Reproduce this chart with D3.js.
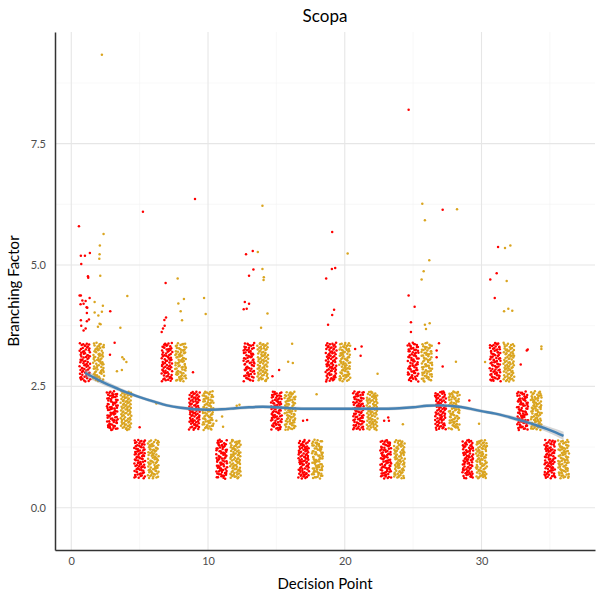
<!DOCTYPE html>
<html>
<head>
<meta charset="utf-8">
<script src="https://cdn.jsdelivr.net/npm/d3@7"></script>
<style>
  body { margin: 0; background: #fff; }
</style>
</head>
<body>
<div class="center"></div>
<script>
// Decision points and the usual branching factor at each (3,3,2,2,1,1 per deal)
const decisionPoints = [1,2,3,4,5,6,7,8,9,10,11,12,13,14,15,16,17,18,
                        19,20,21,22,23,24,25,26,27,28,29,30,31,32,33,34,35,36];
const baseBranching  = [3,3,2,2,1,1,3,3,2,2,1,1,3,3,2,2,1,1,
                        3,3,2,2,1,1,3,3,2,2,1,1,3,3,2,2,1,1];
// games sitting at the usual value for each decision point
const gamesAtBase    = [72,78,84,80,84,84,78,80,84,82,84,84,76,78,84,82,84,84,
                        78,84,84,84,84,84,76,76,80,82,84,84,80,78,84,84,84,84];

// the scattered higher values [decision point, branching factor]
const player1Extra = [
  [0.56,5.80],[1.36,5.25],[0.70,5.19],[1.00,5.19],[0.73,5.02],[1.22,4.77],[1.24,4.74],
  [0.61,4.37],[0.70,4.37],[0.81,4.27],[1.05,4.26],[1.34,4.32],[0.68,4.19],[0.90,4.20],
  [1.12,4.13],[1.17,4.12],[1.14,4.01],[0.70,3.86],[1.29,3.88],[1.14,3.84],[0.73,3.75],
  [1.05,3.69],[0.90,3.65],
  [2.85,4.05],[3.17,3.40],[2.83,3.15],
  [5.24,6.10],[5.00,1.66],
  [6.90,4.63],[6.93,3.92],[6.81,3.87],[6.83,3.75],[6.71,3.69],[6.61,3.62],
  [9.05,6.36],[8.90,2.79],
  [12.78,5.22],[13.27,5.29],[13.32,4.91],[13.00,4.78],[12.69,4.24],[13.00,4.20],[12.61,4.09],[12.83,4.10],
  [15.20,2.84],[14.71,2.71],
  [16.95,1.79],[17.25,1.81],
  [19.08,5.68],[19.06,4.92],[19.30,4.94],[18.64,4.72],[19.22,4.08],[19.08,3.97],[18.78,3.77],
  [21.23,3.32],[20.76,3.27],[21.16,3.13],
  [22.88,1.79],[23.18,1.86],[23.23,1.79],
  [24.67,8.20],[24.67,4.37],[25.11,4.14],[24.84,3.82],[24.84,3.62],
  [27.16,6.14],[26.89,3.39],[26.72,3.24],[26.72,3.10],[27.16,2.91],
  [29.11,2.21],
  [31.21,5.37],[31.11,4.83],[30.64,4.70],[30.97,4.32],
  [33.38,3.26],[33.31,3.24],[32.87,2.95]
];
const player2Extra = [
  [2.24,9.33],[2.36,5.64],[2.09,5.40],[2.07,5.22],[2.05,5.13],[2.12,4.78],[1.71,4.24],
  [2.31,4.16],[1.71,4.02],[1.98,3.96],[2.24,4.04],[2.07,3.79],[1.95,3.73],[2.14,3.78],
  [4.10,4.36],[3.59,3.71],[3.73,3.10],[3.85,3.06],[4.03,3.00],[3.34,2.81],[3.70,2.84],
  [6.22,2.15],
  [7.78,4.72],[8.24,4.30],[7.83,4.21],[8.00,4.05],[8.10,3.86],
  [9.71,4.32],[9.83,3.99],
  [10.61,1.79],[11.03,1.88],[11.10,1.67],
  [12.30,2.12],[12.10,2.10],
  [13.98,6.22],[13.64,5.27],[13.98,4.92],[14.08,4.75],[14.06,4.69],[14.35,4.00],[13.88,3.71],
  [16.15,3.38],[15.86,3.01],[16.20,2.98],
  [17.94,2.34],
  [20.21,5.24],
  [22.40,2.76],
  [24.25,1.72],
  [25.67,6.26],[25.86,5.92],[26.18,5.10],[25.77,4.87],[25.62,4.70],[25.86,3.77],[26.21,3.80],[25.94,3.68],
  [28.21,6.15],[28.13,3.01],
  [29.82,1.73],[30.26,3.00],
  [31.72,5.35],[32.11,5.40],[31.84,4.67],[31.65,4.05],[31.96,4.10],[32.25,4.06],
  [34.38,3.32],[34.38,3.27]
];

// smoothed trend and its standard error band
const smoothX  = [1,2,3,4,5,6,7,8,9,10,11,12,13,14,15,16,17,18,
                  19,20,21,22,23,24,25,26,27,28,29,30,31,32,33,34,35,36];
const smoothY  = [2.78,2.63,2.50,2.38,2.28,2.19,2.11,2.06,2.03,2.02,2.03,2.05,2.07,2.08,2.07,2.05,2.04,2.04,
                  2.04,2.04,2.04,2.04,2.04,2.05,2.07,2.10,2.11,2.09,2.05,1.99,1.94,1.87,1.79,1.70,1.60,1.48];
const smoothSE = [0.08,0.06,0.05,0.04,0.035,0.035,0.035,0.035,0.035,0.035,0.035,0.035,0.035,0.035,0.035,0.035,0.035,0.035,
                  0.035,0.035,0.035,0.035,0.035,0.035,0.035,0.035,0.035,0.035,0.035,0.035,0.035,0.04,0.045,0.05,0.065,0.085];

const xTicks = [0, 10, 20, 30];
const xMinor = [5, 15, 25, 35];
const yTicks = [0, 2.5, 5, 7.5];
const yMinor = [1.25, 3.75, 6.25, 8.75];

const margin = {top: 32, right: 5, bottom: 50, left: 55};
const width = 600 - margin.left - margin.right;
const height = 600 - margin.top - margin.bottom;

const xScale = d3.scaleLinear().domain([-1.19, 38.3]).range([0, width]);
const yScale = d3.scaleLinear().domain([-0.87, 9.8]).range([height, 0]);

const colour = ["#ff0000", "#daa520"];   // player 1, player 2
const font = "Lato, 'Open Sans', sans-serif";

const svg = d3.select(".center").append("svg")
              .attr("width", 600)
              .attr("height", 600)
              .append("g")
              .attr("transform", `translate(${margin.left},${margin.top})`);

// grid lines
const grid = svg.append("g");
grid.selectAll(".minor-x").data(xMinor).enter().append("line")
    .attr("x1", d => xScale(d)).attr("x2", d => xScale(d))
    .attr("y1", 0).attr("y2", height)
    .style("stroke", "#f3f3f3").style("stroke-width", 0.6);
grid.selectAll(".minor-y").data(yMinor).enter().append("line")
    .attr("x1", 0).attr("x2", width)
    .attr("y1", d => yScale(d)).attr("y2", d => yScale(d))
    .style("stroke", "#f3f3f3").style("stroke-width", 0.6);
grid.selectAll(".major-x").data(xTicks).enter().append("line")
    .attr("x1", d => xScale(d)).attr("x2", d => xScale(d))
    .attr("y1", 0).attr("y2", height)
    .style("stroke", "#e6e6e6").style("stroke-width", 1.1);
grid.selectAll(".major-y").data(yTicks).enter().append("line")
    .attr("x1", 0).attr("x2", width)
    .attr("y1", d => yScale(d)).attr("y2", d => yScale(d))
    .style("stroke", "#e6e6e6").style("stroke-width", 1.1);

// jitter layout (quasi-random spread of +-0.4, like geom_jitter)
function halton(i, b) {
  let f = 1, r = 0;
  while (i > 0) { f /= b; r += f * (i % b); i = Math.floor(i / b); }
  return r;
}

const points = [];
decisionPoints.forEach((d, i) => {
  for (let j = 0; j < gamesAtBase[i]; j++) {
    const k = i * 211 + j + 17;
    points.push({
      x: d + (halton(k, 2) - 0.5) * 0.8,
      y: baseBranching[i] + (halton(k, 3) - 0.5) * 0.8,
      player: (d % 2 === 1) ? 0 : 1
    });
  }
});
player1Extra.forEach(p => points.push({x: p[0], y: p[1], player: 0}));
player2Extra.forEach(p => points.push({x: p[0], y: p[1], player: 1}));

svg.append("g").selectAll("circle")
   .data(points)
   .enter().append("circle")
   .attr("cx", d => xScale(d.x))
   .attr("cy", d => yScale(d.y))
   .attr("r", 1.25)
   .style("fill", d => colour[d.player]);

// smooth with band
const smooth = smoothX.map((x, i) => ({x: x, y: smoothY[i], se: smoothSE[i]}));
svg.append("path")
   .datum(smooth)
   .attr("d", d3.area()
       .x(d => xScale(d.x))
       .y0(d => yScale(d.y - d.se))
       .y1(d => yScale(d.y + d.se))
       .curve(d3.curveMonotoneX))
   .style("fill", "#999999")
   .style("opacity", 0.4);
svg.append("path")
   .datum(smooth)
   .attr("d", d3.line()
       .x(d => xScale(d.x))
       .y(d => yScale(d.y))
       .curve(d3.curveMonotoneX))
   .style("fill", "none")
   .style("stroke", "#4682b4")
   .style("stroke-width", 2.4);

// axes
const xAxis = d3.axisBottom(xScale).tickValues(xTicks).tickSize(0).tickSizeOuter(0).tickPadding(7);
const yAxis = d3.axisLeft(yScale).tickValues(yTicks).tickFormat(d3.format(".1f"))
                .tickSize(0).tickSizeOuter(0).tickPadding(9);

const gx = svg.append("g").attr("transform", `translate(0, ${height})`).call(xAxis);
const gy = svg.append("g").call(yAxis);
[gx, gy].forEach(g => {
  g.select(".domain").style("stroke", "#333333").style("stroke-width", 1.5);
  g.selectAll("text").style("font-family", font).style("font-size", "11px").style("fill", "#4d4d4d");
});

// X-axis label
svg.append("text")
   .text("Decision Point")
   .attr("x", width / 2)
   .attr("y", height + 39)
   .attr("text-anchor", "middle")
   .style("font-family", font)
   .style("font-size", "15px")
   .style("fill", "#000");

// Y-axis label
svg.append("text")
   .text("Branching Factor")
   .attr("transform", "rotate(-90)")
   .attr("x", -height / 2)
   .attr("y", -margin.left + 19)
   .attr("text-anchor", "middle")
   .style("font-family", font)
   .style("font-size", "15px")
   .style("fill", "#000");

// Title
svg.append("text")
   .text("Scopa")
   .attr("x", width / 2)
   .attr("y", -10)
   .attr("text-anchor", "middle")
   .style("font-family", font)
   .style("font-size", "17px")
   .style("fill", "#000");
</script>
</body>
</html>
